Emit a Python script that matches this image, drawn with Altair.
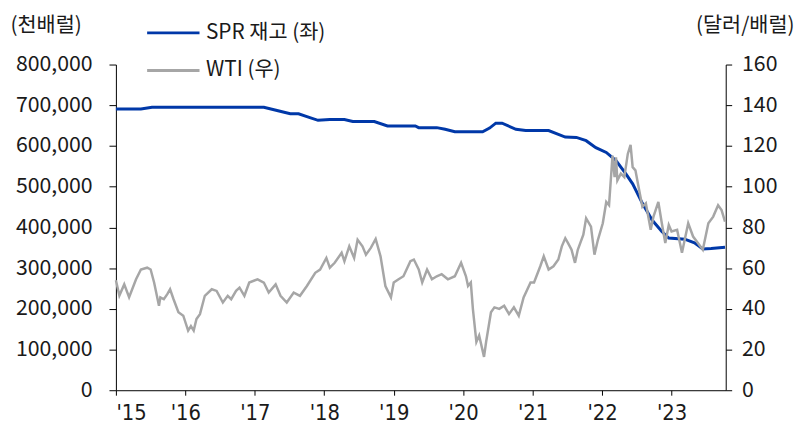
import altair as alt
import pandas as pd

# SPR inventory (thousand barrels), time in fractional years
spr_t = [2015.0, 2015.36, 2015.52, 2017.13, 2017.32, 2017.51, 2017.63, 2017.75, 2017.91,
         2018.08, 2018.29, 2018.41, 2018.72, 2018.91, 2019.31, 2019.36, 2019.62, 2019.74,
         2019.88, 2020.28, 2020.38, 2020.47, 2020.56, 2020.76, 2020.9, 2021.23, 2021.47,
         2021.63, 2021.77, 2021.91, 2022.06, 2022.2, 2022.34, 2022.44, 2022.58, 2022.72,
         2022.86, 2022.96, 2023.19, 2023.33, 2023.45, 2023.57, 2023.77]
spr_v = [691, 691, 695, 695, 687, 679, 679, 672, 663,
         665, 665, 660, 660, 649, 649, 645, 645, 641,
         635, 635, 644, 656, 656, 641, 638, 638, 622,
         621, 613, 596, 584, 564, 532, 507, 459, 418,
         390, 374, 371, 362, 347, 348, 351]

# WTI ($/bbl)
wti_t = [2015.0, 2015.05, 2015.12, 2015.19, 2015.29, 2015.36, 2015.45, 2015.5, 2015.55,
         2015.62, 2015.64, 2015.69, 2015.74, 2015.78, 2015.83, 2015.9, 2015.97, 2016.04,
         2016.08, 2016.12, 2016.16, 2016.21, 2016.28, 2016.38, 2016.45, 2016.54, 2016.61,
         2016.66, 2016.73, 2016.78, 2016.85, 2016.92, 2017.04, 2017.13, 2017.2, 2017.3,
         2017.37, 2017.46, 2017.56, 2017.65, 2017.75, 2017.87, 2017.94, 2018.03, 2018.08,
         2018.15, 2018.25, 2018.29, 2018.36, 2018.43, 2018.48, 2018.55, 2018.6, 2018.67,
         2018.74, 2018.81, 2018.88, 2018.96, 2019.0, 2019.07, 2019.14, 2019.24, 2019.29,
         2019.36, 2019.41, 2019.48, 2019.55, 2019.62, 2019.69, 2019.78, 2019.88, 2019.97,
         2020.04, 2020.07, 2020.11, 2020.14, 2020.19, 2020.23, 2020.3, 2020.33, 2020.4,
         2020.45, 2020.52, 2020.59, 2020.66, 2020.73, 2020.8, 2020.87, 2020.97, 2021.02,
         2021.11, 2021.16, 2021.23, 2021.3, 2021.37, 2021.42, 2021.47, 2021.51, 2021.56,
         2021.61, 2021.65, 2021.73, 2021.77, 2021.84, 2021.89, 2021.94, 2022.01, 2022.06,
         2022.1, 2022.15, 2022.18, 2022.2, 2022.22, 2022.27, 2022.32, 2022.37, 2022.41,
         2022.44, 2022.48, 2022.53, 2022.58, 2022.63, 2022.7, 2022.74, 2022.81, 2022.86,
         2022.91, 2022.96, 2023.0, 2023.08, 2023.15, 2023.24, 2023.31, 2023.38, 2023.45,
         2023.53, 2023.6, 2023.67, 2023.72, 2023.77]
wti_v = [54.0, 46.5, 52.0, 45.7, 54.5, 59.3, 60.2, 59.3, 52.9,
         41.5, 45.6, 44.7, 47.2, 49.6, 44.7, 38.3, 36.6, 29.3,
         31.5, 29.3, 35.0, 37.4, 46.4, 49.6, 48.8, 43.1, 46.4,
         44.7, 48.8, 50.4, 46.4, 52.9, 54.5, 52.9, 48.0, 52.0,
         46.4, 43.1, 48.0, 46.4, 51.2, 57.7, 59.3, 65.0, 60.2,
         62.6, 67.5, 63.4, 70.7, 65.0, 73.9, 70.7, 66.6, 69.9,
         74.3, 65.8, 51.2, 45.6, 52.9, 54.5, 56.0, 63.4, 64.2,
         59.3, 52.9, 59.3, 54.5, 56.0, 57.0, 54.5, 56.0, 62.6,
         56.0, 51.2, 52.9, 39.9, 23.7, 26.9, 16.4, 23.7, 38.3,
         40.7, 40.0, 41.5, 37.4, 40.7, 36.6, 45.6, 52.9, 52.9,
         60.9, 65.8, 59.3, 60.9, 64.2, 70.7, 74.7, 72.3, 69.0,
         62.6, 69.0, 76.4, 84.5, 80.4, 66.6, 73.9, 82.0, 92.5,
         90.9, 115.3, 104.7, 114.4, 103.1, 106.4, 104.7, 116.1, 120.5,
         109.6, 108.0, 99.0, 90.1, 91.8, 78.8, 85.3, 92.5, 82.0,
         72.3, 81.2, 78.0, 78.8, 67.5, 82.0, 75.5, 72.3, 69.0,
         82.0, 85.3, 90.9, 88.5, 82.8]

series_names = ["SPR 재고 (좌)", "WTI (우)"]
series_colors = ["#0038A8", "#A6A6A6"]
year_ticks = [2015, 2016, 2017, 2018, 2019, 2020, 2021, 2022, 2023]
left_ticks = [0, 100000, 200000, 300000, 400000, 500000, 600000, 700000, 800000]
right_ticks = [0, 20, 40, 60, 80, 100, 120, 140, 160]

spr_df = pd.DataFrame({"t": spr_t, "v": [x * 1000 for x in spr_v], "s": series_names[0]})
wti_df = pd.DataFrame({"t": wti_t, "v": wti_v, "s": series_names[1]})

FONT = "Noto Sans CJK KR"
TXT = "#1a1a1a"

xenc = alt.X("t:Q", scale=alt.Scale(domain=[2015, 2023.78], nice=False, zero=False),
             axis=alt.Axis(values=year_ticks, labelExpr="\"'\" + substring(toString(datum.value), 2)",
                           grid=False, domainColor="#000", tickColor="#000", tickSize=5,
                           labelPadding=8, labelFontSize=22, labelFont="DejaVu Sans Condensed",
                           labelColor=TXT, title=None))

color = alt.Color("s:N", scale=alt.Scale(domain=series_names, range=series_colors),
                  legend=alt.Legend(title=None, orient="none", legendX=30, legendY=-60,
                                    symbolType="stroke", symbolSize=2800, symbolStrokeWidth=3,
                                    labelFontSize=21, labelFont=FONT, labelColor=TXT,
                                    rowPadding=-14, labelOffset=5))

spr = alt.Chart(spr_df).mark_line(strokeWidth=3).encode(
    x=xenc,
    y=alt.Y("v:Q", scale=alt.Scale(domain=[0, 800000], nice=False),
            axis=alt.Axis(values=left_ticks, format=",.0f", grid=False, domainColor="#000",
                          tickColor="#000", tickSize=7, labelPadding=17, labelFontSize=21.5,
                          labelFont=FONT, labelColor=TXT, title="(천배럴)", titleAngle=0,
                          titleAlign="left", titleBaseline="middle", titleX=-107, titleY=-39,
                          titleFont=FONT, titleFontSize=21, titleFontWeight="normal",
                          titleColor=TXT)),
    color=color,
)

wti = alt.Chart(wti_df).mark_line(strokeWidth=2.5).encode(
    x=xenc,
    y=alt.Y("v:Q", scale=alt.Scale(domain=[0, 160], nice=False),
            axis=alt.Axis(orient="right", values=right_ticks, grid=False, domainColor="#000",
                          tickColor="#000", tickSize=6, labelPadding=10, labelFontSize=21.5,
                          labelFont=FONT, labelColor=TXT, title="(달러/배럴)", titleAngle=0,
                          titleAlign="right", titleBaseline="middle", titleX=69, titleY=-39,
                          titleFont=FONT, titleFontSize=21, titleFontWeight="normal",
                          titleColor=TXT)),
    color=color,
)

chart = alt.layer(spr, wti).resolve_scale(y="independent").properties(
    width=616, height=329,
    autosize=alt.AutoSizeParams(type="none"),
    padding={"left": 109, "top": 55, "right": 72, "bottom": 33},
    background="white",
).configure_view(strokeOpacity=0)

chart.save("out.html", embed_options={"renderer": "svg", "actions": False})
